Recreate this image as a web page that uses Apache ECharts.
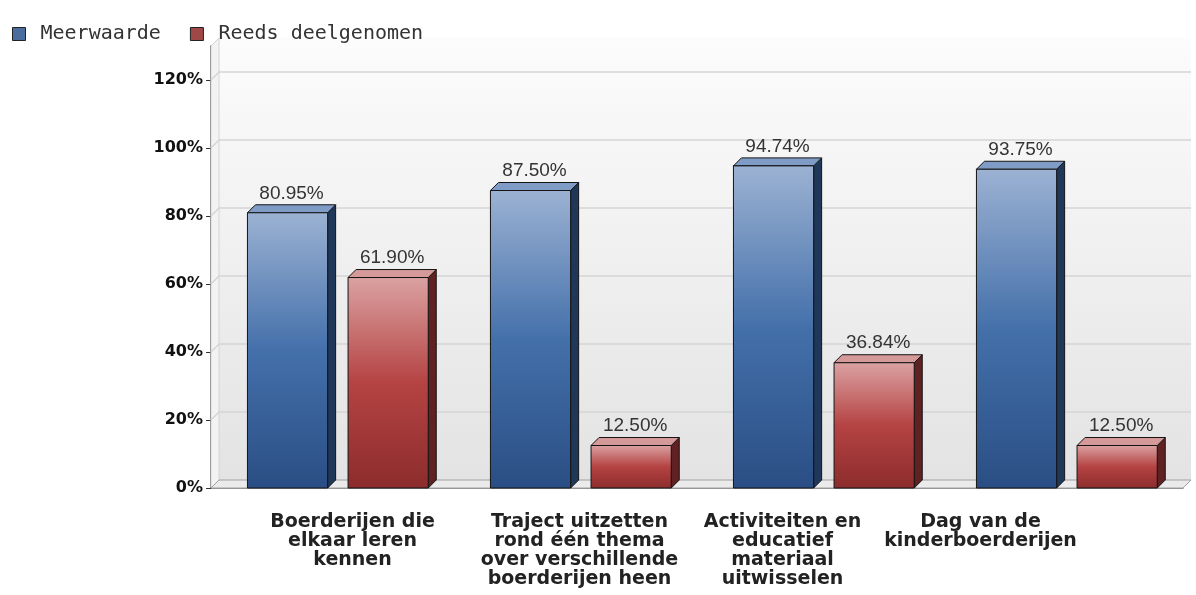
<!DOCTYPE html>
<html><head><meta charset="utf-8">
<script src="https://cdn.jsdelivr.net/npm/echarts@6/dist/echarts.min.js"></script>
<style>html,body{margin:0;padding:0;background:#fff}#c{width:1196px;height:595px}</style>
</head><body><div id="c"></div>
<script>
// ---- data ----
const categories = [
  'Boerderijen die\nelkaar leren\nkennen',
  'Traject uitzetten\nrond één thema\nover verschillende\nboerderijen heen',
  'Activiteiten en\neducatief\nmateriaal\nuitwisselen',
  'Dag van de\nkinderboerderijen'
];
const meerwaarde = [80.95, 87.50, 94.74, 93.75];
const reedsDeelgenomen = [61.90, 12.50, 36.84, 12.50];
const seriesNames = ['Meerwaarde', 'Reeds deelgenomen'];
const yTicks = [0, 20, 40, 60, 80, 100, 120];

// ---- style ----
const DX = 8, DY = 8;
const labelShift = [20, 4, -36, -81];
const palettes = [
  {front: ['#9cb2d3', '#4470aa', '#2a4e84'], top: '#7f9cc7', side: '#1f3758', legend: '#4a6d9e'},
  {front: ['#dba2a2', '#b54343', '#8c2c2c'], top: '#d69999', side: '#5f2121', legend: '#a04848'}
];
const offsets = [-0.35, 0.064];

function barRender(si) {
  return function (params, api) {
    const cat = api.value(0), val = api.value(1);
    const p0 = api.coord([cat, 0]), p1 = api.coord([cat, val]);
    const band = api.size([1, 0])[0];
    const w = band * 0.33;
    const x = p0[0] + band * offsets[si];
    const yb = p0[1], yt = p1[1];
    const pal = palettes[si];
    const stroke = '#141414';
    return {type: 'group', children: [
      {type: 'polygon', shape: {points: [[x + w, yt], [x + w + DX, yt - DY], [x + w + DX, yb - DY], [x + w, yb]]},
        style: {fill: pal.side, stroke: stroke, lineWidth: 1}},
      {type: 'polygon', shape: {points: [[x, yt], [x + DX, yt - DY], [x + w + DX, yt - DY], [x + w, yt]]},
        style: {fill: pal.top, stroke: stroke, lineWidth: 1}},
      {type: 'rect', shape: {x: x, y: yt, width: w, height: yb - yt},
        style: {fill: new echarts.graphic.LinearGradient(0, 0, 0, 1, [
          {offset: 0, color: pal.front[0]}, {offset: 0.5, color: pal.front[1]}, {offset: 1, color: pal.front[2]}]),
          stroke: stroke, lineWidth: 1}},
      {type: 'text', x: x + (w + DX) / 2, y: yt - DY - 2,
        style: {text: val.toFixed(2) + '%', align: 'center', verticalAlign: 'bottom',
          font: '19px "Liberation Sans", Arial, sans-serif', fill: '#333'}}
    ]};
  };
}

function wallRender(params, api) {
  const cs = params.coordSys;
  const L = cs.x, R = cs.x + cs.width, T = cs.y, B = cs.y + cs.height;
  const children = [];
  children.push({type: 'rect', shape: {x: L + DX, y: T - DY, width: R - L, height: B - T},
    style: {fill: new echarts.graphic.LinearGradient(0, 0, 0, 1, [
      {offset: 0, color: '#fcfcfc'}, {offset: 1, color: '#e3e3e3'}])}});
  children.push({type: 'polygon', shape: {points: [[L, T], [L + DX, T - DY], [L + DX, B - DY], [L, B]]},
    style: {fill: '#f3f3f3', stroke: '#d4d4d4', lineWidth: 1}});
  children.push({type: 'polygon', shape: {points: [[L, B], [L + DX, B - DY], [R + DX, B - DY], [R, B]]},
    style: {fill: '#ebebeb', stroke: '#a0a0a0', lineWidth: 1}});
  yTicks.slice(1).forEach(function (t) {
    const y = api.coord([0, t])[1];
    children.push({type: 'polyline', shape: {points: [[L, y], [L + DX, y - DY], [R + DX, y - DY]]},
      style: {stroke: '#d5d5d5', lineWidth: 1.5, fill: null}});
  });
  return {type: 'group', children: children};
}

const chart = echarts.init(document.getElementById('c'));
chart.setOption({
  animation: false,
  backgroundColor: '#fff',
  legend: {
    left: 7, top: 19, itemWidth: 13, itemHeight: 13, itemGap: 29,
    textStyle: {fontFamily: '"DejaVu Sans Mono", monospace', fontSize: 20, color: '#333', padding: [0, 0, 0, 10]},
    data: seriesNames.map(function (n, i) {
      return {name: n, icon: 'rect', itemStyle: {color: palettes[i].legend, borderColor: '#222', borderWidth: 1}};
    })
  },
  grid: {left: 211, right: 13, top: 46, bottom: 107, containLabel: false, outerBoundsMode: 'none'},
  xAxis: {
    type: 'category',
    data: categories.map(function (c, i) {
      const s = labelShift[i];
      return {value: c, textStyle: {padding: s >= 0 ? [0, 0, 0, 2 * s] : [0, -2 * s, 0, 0]}};
    }),
    axisLine: {lineStyle: {color: '#666', width: 1.5}},
    axisTick: {alignWithLabel: true, length: 5, lineStyle: {color: '#666'}},
    axisLabel: {interval: 0, margin: 25, fontFamily: '"DejaVu Sans", sans-serif', fontWeight: 'bold',
      fontSize: 19, lineHeight: 19, color: '#222', hideOverlap: false},
    splitLine: {show: false}
  },
  yAxis: {
    type: 'value', min: 0, max: 130, interval: 20,
    axisLine: {show: true, lineStyle: {color: '#333', width: 1.5}},
    axisTick: {show: true, length: 5, lineStyle: {color: '#333'}, customValues: yTicks},
    axisLabel: {margin: 8, fontFamily: '"DejaVu Sans", sans-serif', fontWeight: 'bold', fontSize: 16,
      color: '#111', customValues: yTicks, formatter: function (v) { return v + '%'; }},
    splitLine: {show: false}
  },
  series: [
    {type: 'custom', name: 'wall', silent: true, renderItem: wallRender, data: [[0, 0]], z: 1},
    {type: 'custom', name: seriesNames[0], renderItem: barRender(0), itemStyle: {color: palettes[0].legend},
      data: meerwaarde.map(function (v, i) { return [i, v]; }), z: 2},
    {type: 'custom', name: seriesNames[1], renderItem: barRender(1), itemStyle: {color: palettes[1].legend},
      data: reedsDeelgenomen.map(function (v, i) { return [i, v]; }), z: 2}
  ]
});
</script></body></html>
